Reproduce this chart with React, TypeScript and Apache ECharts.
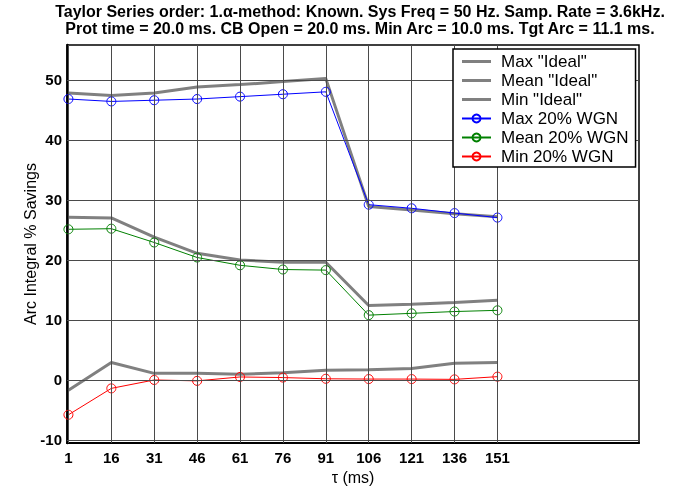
import React, { useEffect, useRef } from 'react';
import * as echarts from 'echarts';

const tau = [1, 16, 31, 46, 61, 76, 91, 106, 121, 136, 151];
const maxIdeal = [47.8, 47.4, 47.8, 48.8, 49.2, 49.7, 50.2, 28.9, 28.3, 27.7, 27.2];
const meanIdeal = [27.1, 27.0, 23.8, 21.1, 20.0, 19.6, 19.6, 12.4, 12.6, 12.9, 13.3];
const minIdeal = [-1.7, 2.9, 1.1, 1.1, 0.95, 1.2, 1.6, 1.7, 1.9, 2.8, 2.9];
const maxWgn = [46.8, 46.4, 46.6, 46.8, 47.2, 47.6, 48.0, 29.2, 28.6, 27.8, 27.05];
const meanWgn = [25.1, 25.2, 22.9, 20.4, 19.1, 18.4, 18.3, 10.8, 11.1, 11.4, 11.6];
const minWgn = [-5.8, -1.4, 0.0, -0.15, 0.5, 0.4, 0.2, 0.15, 0.15, 0.1, 0.55];
const yTicks = [-10, 0, 10, 20, 30, 40, 50];

const titleLine1 = 'Taylor Series order: 1.\u03b1-method: Known. Sys Freq = 50 Hz. Samp. Rate = 3.6kHz.';
const titleLine2 = 'Prot time = 20.0 ms. CB Open = 20.0 ms. Min Arc = 10.0 ms. Tgt Arc = 11.1 ms.';

const FONT = '"Liberation Sans", Arial, Helvetica, sans-serif';
const LINE_ICON = 'path://M0 0 H29 V3 H0 Z';

const pairs = (ys: number[]) => tau.map((t, i) => [t, ys[i]]);

export default function App() {
  const ref = useRef<HTMLDivElement>(null);
  useEffect(() => {
    if (!ref.current) return;
    const chart = echarts.init(ref.current, undefined, { renderer: 'svg' });
    const idealSeries = (name: string, ys: number[]) => ({
      name,
      type: 'line',
      data: pairs(ys),
      symbol: 'none',
      lineStyle: { color: '#808080', width: 3 },
      itemStyle: { color: '#808080' },
      z: 3,
    });
    const wgnSeries = (name: string, ys: number[], color: string) => ({
      name,
      type: 'line',
      data: pairs(ys),
      symbol: 'circle',
      symbolSize: 9,
      showAllSymbol: true,
      lineStyle: { color, width: 1 },
      itemStyle: { color: 'rgba(255,255,255,0)', borderColor: color, borderWidth: 1 },
      z: 4,
    });
    const axisCommon = {
      nameTextStyle: { fontSize: 16, color: '#000', fontFamily: FONT },
      splitLine: { show: false },
    };
    chart.setOption({
      animation: false,
      textStyle: { fontFamily: FONT },
      graphic: [
        {
          type: 'text', x: 360, y: 3,
          style: { text: titleLine1, fill: '#000', font: `bold 16px ${FONT}`, textAlign: 'center', textVerticalAlign: 'top' },
        },
        {
          type: 'text', x: 360, y: 20,
          style: { text: titleLine2, fill: '#000', font: `bold 16px ${FONT}`, textAlign: 'center', textVerticalAlign: 'top' },
        },
      ],
      grid: {
        left: 67, top: 45, width: 572, height: 398,
        show: true, borderColor: '#000', borderWidth: 1.5,
        containLabel: false, outerBoundsMode: 'none',
      },
      legend: {
        orient: 'vertical',
        left: 453, top: 49,
        padding: [3, 7, 1, 8],
        itemWidth: 29, itemHeight: 10, itemGap: 0,
        backgroundColor: '#fff',
        borderColor: '#000', borderWidth: 1.5,
        z: 10,
        textStyle: { fontSize: 17, lineHeight: 19, color: '#000', fontFamily: FONT, padding: [0, 0, 0, 5] },
        data: [
          { name: 'Max "Ideal"', icon: LINE_ICON },
          { name: 'Mean "Ideal"', icon: LINE_ICON },
          { name: 'Min "Ideal"', icon: LINE_ICON },
          { name: 'Max 20% WGN' },
          { name: 'Mean 20% WGN' },
          { name: 'Min 20% WGN' },
        ],
      },
      xAxis: [
        {
          ...axisCommon,
          type: 'value', min: 0.5, max: 200.5,
          name: '\u03c4 (ms)', nameLocation: 'middle', nameGap: 26,
          axisLine: { show: true, onZero: false, lineStyle: { color: '#000', width: 2 } },
          axisTick: { show: true, inside: true, length: 5, customValues: tau, lineStyle: { color: '#000' } },
          axisLabel: { customValues: tau, fontSize: 15, fontWeight: 'bold', color: '#000', margin: 7, fontFamily: FONT },
        },
        {
          type: 'value', min: 0.5, max: 200.5, position: 'top',
          axisLine: { show: false, onZero: false },
          axisTick: { show: true, inside: true, length: 5, customValues: tau, lineStyle: { color: '#000' } },
          axisLabel: { show: false },
          splitLine: { show: false },
        },
      ],
      yAxis: [
        {
          ...axisCommon,
          type: 'value', min: -10.5, max: 55.8,
          name: 'Arc Integral % Savings', nameLocation: 'middle', nameGap: 29, nameRotate: 90,
          nameMoveOverlap: false,
          axisLine: { show: true, onZero: false, lineStyle: { color: '#000', width: 2.5 } },
          axisTick: { show: true, inside: true, length: 5, customValues: yTicks, lineStyle: { color: '#000' } },
          axisLabel: { customValues: yTicks, fontSize: 15, fontWeight: 'bold', color: '#000', margin: 5, fontFamily: FONT },
        },
        {
          type: 'value', min: -10.5, max: 55.8, position: 'right',
          axisLine: { show: false, onZero: false },
          axisTick: { show: true, inside: true, length: 5, customValues: yTicks, lineStyle: { color: '#000' } },
          axisLabel: { show: false },
          splitLine: { show: false },
        },
      ],
      series: [
        {
          name: 'grid',
          type: 'line',
          data: [],
          z: 1,
          silent: true,
          markLine: {
            silent: true,
            symbol: 'none',
            label: { show: false },
            lineStyle: { color: '#4a4a4a', width: 1, type: 'solid' },
            data: [
              ...tau.map((t) => ({ xAxis: t })),
              ...yTicks.map((v) => ({ yAxis: v })),
            ],
          },
        },
        idealSeries('Max "Ideal"', maxIdeal),
        idealSeries('Mean "Ideal"', meanIdeal),
        idealSeries('Min "Ideal"', minIdeal),
        wgnSeries('Max 20% WGN', maxWgn, '#0000ff'),
        wgnSeries('Mean 20% WGN', meanWgn, '#008000'),
        wgnSeries('Min 20% WGN', minWgn, '#ff0000'),
      ],
    });
    return () => chart.dispose();
  }, []);
  return <div ref={ref} style={{ position: 'fixed', left: 0, top: 0, width: 686, height: 486 }} />;
}
